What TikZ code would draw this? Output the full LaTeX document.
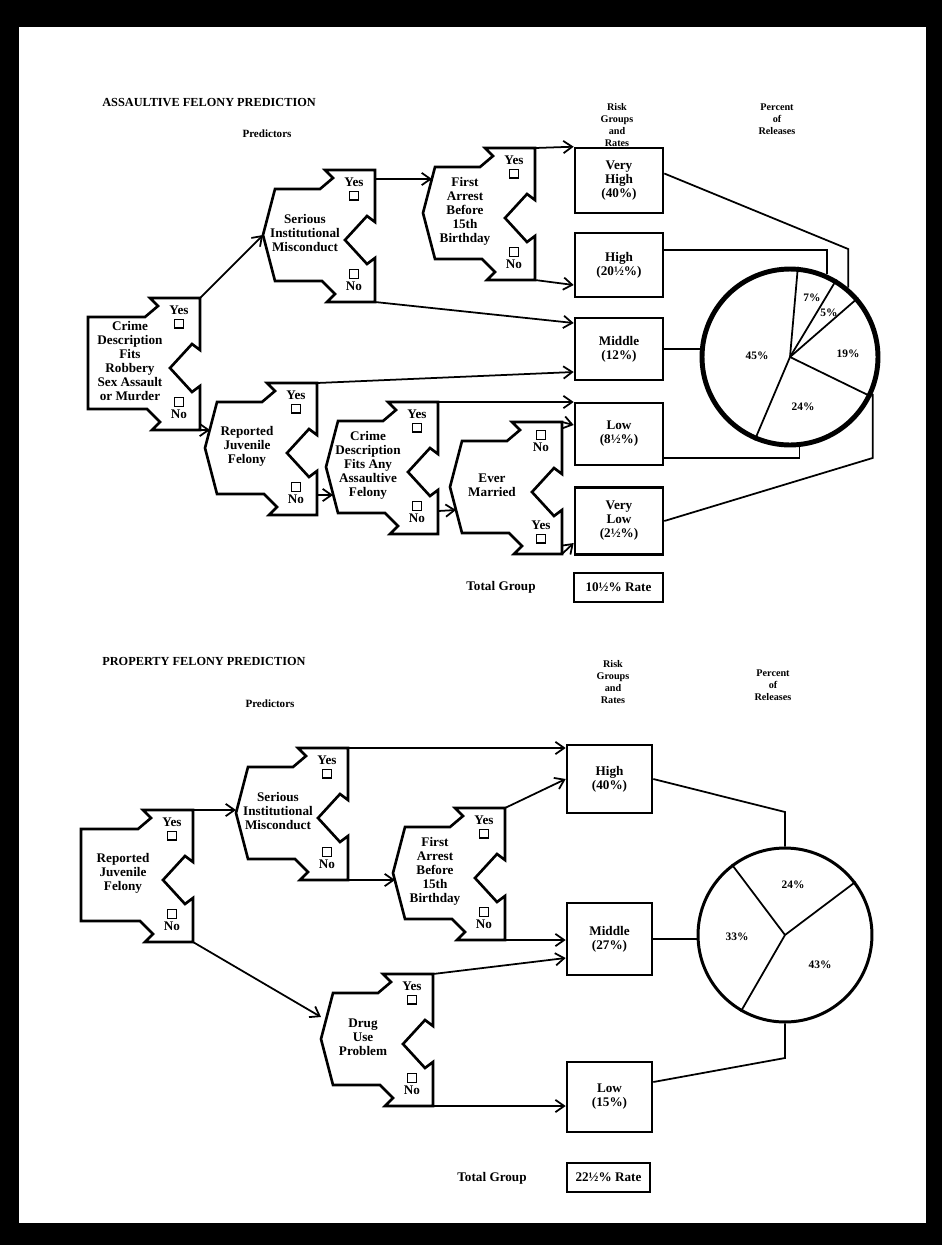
\documentclass[tikz,border=0pt]{standalone}
\usepackage{fontspec}
\setmainfont{Liberation Serif}
\usetikzlibrary{arrows.meta,calc}
\newcommand{\ckbox}{{\setlength{\fboxsep}{0pt}\setlength{\fboxrule}{0.7pt}\fbox{\rule{0pt}{4.2pt}\hspace{4.2pt}}}}
% decision shape: name, right x, column top y, left inset (0 = flat), text, upper answer, lower answer
\newcommand{\predictor}[7]{%
  \begin{scope}[shift={(#2,#3)}]
    \draw[predline] (0,0) -- (0,52) -- (-8,46) -- (-30,70) -- (-8,94) -- (0,88) -- (0,132)
      -- (-48,132) -- (-40,124) -- (-53,111) -- (-112+#4,111) -- (-112,65) -- (-112+#4,19)
      -- (-55,19) -- (-42,8) -- (-50,0) -- cycle;
    \node[predtext] (#1) at (-70,63) {#5};
    \node[anstext] (#1-a) at (-21,19) {#6};
    \node[anstext] (#1-b) at (-21,110) {#7};
    \coordinate (#1-top) at (0,0);
    \coordinate (#1-bot) at (0,132);
    \coordinate (#1-in) at (-112,65);
  \end{scope}}
\tikzset{>={Straight Barb[length=5pt,width=7pt]},
  predline/.style={line width=1.5pt},
  predtext/.style={align=center,inner sep=0,font=\fontsize{7.5}{8}\selectfont\bfseries},
  anstext/.style={align=center,inner sep=0,font=\fontsize{7.5}{7.6}\selectfont\bfseries},
  riskbox/.style={draw,line width=1.5pt,inner sep=0,align=center,font=\fontsize{7.5}{8}\selectfont\bfseries},
  flow/.style={line width=1pt,->},
  link/.style={line width=1pt},
  pie/.style={circle,draw,inner sep=0},
  slice/.style={line width=1pt},
  pct/.style={inner sep=0,font=\fontsize{6.5}{7}\selectfont\bfseries},
  heading/.style={inner sep=0,font=\fontsize{7}{8}\selectfont\bfseries},
  subhead/.style={inner sep=0,font=\fontsize{6.3}{7}\selectfont\bfseries},
  colhead/.style={inner sep=0,align=center,font=\fontsize{5.8}{6.8}\selectfont\bfseries}}
\begin{document}
\begin{tikzpicture}[x=0.02cm,y=-0.02cm]
\useasboundingbox (0,0) rectangle (942,1245);
% scanned page edge
\fill[black] (0,0) rectangle (942,1245);
\fill[white] (19,27) rectangle (926,1223);

% ---------- assaultive felony ----------
\node[heading,anchor=west] (titleA) at (102,103) {ASSAULTIVE FELONY PREDICTION};
\node[subhead] (predA) at (267,134) {Predictors};
\node[colhead] (riskA) at (617,125) {Risk\\Groups\\and\\Rates};
\node[colhead] (pctA) at (777,119) {Percent\\of\\Releases};

\predictor{crime}{200}{298}{0}{Crime\\Description\\Fits\\Robbery\\Sex Assault\\or Murder}{Yes\\\ckbox}{\ckbox\\No}
\predictor{seriousA}{375}{170}{12}{Serious\\Institutional\\Misconduct}{Yes\\\ckbox}{\ckbox\\No}
\predictor{arrestA}{535}{148}{12}{First\\Arrest\\Before\\15th\\Birthday}{Yes\\\ckbox}{\ckbox\\No}
\predictor{juvA}{317}{383}{12}{Reported\\Juvenile\\Felony}{Yes\\\ckbox}{\ckbox\\No}
\predictor{anyA}{438}{402}{12}{Crime\\Description\\Fits Any\\Assaultive\\Felony}{Yes\\\ckbox}{\ckbox\\No}
\predictor{married}{562}{422}{12}{Ever\\Married}{\ckbox\\No}{Yes\\\ckbox}

\node[riskbox,minimum width=1.76cm,minimum height=1.3cm] (vhigh) at (619,180.5) {Very\\High\\(40\%)};
\node[riskbox,minimum width=1.76cm,minimum height=1.28cm] (high) at (619,265) {High\\(20½\%)};
\node[riskbox,minimum width=1.76cm,minimum height=1.24cm] (middle) at (619,349) {Middle\\(12\%)};
\node[riskbox,minimum width=1.76cm,minimum height=1.24cm] (low) at (619,434) {Low\\(8½\%)};
\node[riskbox,minimum width=1.76cm,minimum height=1.34cm] (vlow) at (619,521) {Very\\Low\\(2½\%)};
\node[predtext] (totA) at (501,587) {Total Group};
\node[riskbox,minimum width=1.78cm,minimum height=0.58cm] (rateA) at (618.5,587.5) {10½\% Rate};

\draw[flow] (crime-top) -- (seriousA-in);
\draw[flow] (crime-bot) -- ($(crime-bot -| juvA-in)+(5,0)$);
\draw[flow] ($(seriousA-top)+(0,9)$) -- ($(arrestA-in)+(9,-34)$);
\draw[flow] (seriousA-bot) -- ($(middle.west)+(0,-26)$);
\draw[flow] (arrestA-top) -- (vhigh.north west);
\draw[flow] (arrestA-bot) -- ($(high.west)+(0,20)$);
\draw[flow] (juvA-top) -- ($(middle.west)+(0,23)$);
\draw[flow] ($(juvA-bot)+(0,-20)$) -- ($(anyA-in)+(7,28)$);
\draw[flow] (anyA-top) -- (anyA-top -| low.west);
\draw[flow] ($(anyA-bot)+(0,-23)$) -- ($(married-in)+(6,23)$);
\draw[flow] (married-top) -- ($(low.west)+(0,-9)$);
\draw[flow] (married-bot) -- ($(vlow.west)+(0,22)$);

\node[pie,line width=2.8pt,minimum size=3.52cm] (pieA) at (790,357) {};
\foreach \a in {85,59.8,41.8,-26.6,-113} \draw[slice] (pieA.center) -- (pieA.\a);
\node[pct] (pA45) at (757,356) {45\%};
\node[pct] (pA7) at (812,298) {7\%};
\node[pct] (pA5) at (829,313) {5\%};
\node[pct] (pA19) at (848,354) {19\%};
\node[pct] (pA24) at (803,407) {24\%};

\draw[link] ($(vhigh.east)+(0,-7)$) -- (pieA.50 |- 0,249) -- (pieA.50);
\draw[link] ($(high.east)+(0,-15)$) -- (pieA.66 |- 0,250) -- (pieA.66);
\draw[link] (middle.east) -- (middle.east -| pieA.west);
\draw[link] ($(low.east)+(0,24)$) -- (pieA.-84 |- 0,458) -- (pieA.-84);
\draw[link] (vlow.east) -- (pieA.-24 |- 0,458) -- (pieA.-24);

% ---------- property felony ----------
\node[heading,anchor=west] (titleB) at (102,661) {PROPERTY FELONY PREDICTION};
\node[subhead] (predB) at (270,704) {Predictors};
\node[colhead] (riskB) at (613,682) {Risk\\Groups\\and\\Rates};
\node[colhead] (pctB) at (773,685) {Percent\\of\\Releases};

\predictor{juvB}{193}{810}{0}{Reported\\Juvenile\\Felony}{Yes\\\ckbox}{\ckbox\\No}
\predictor{seriousB}{348}{748}{12}{Serious\\Institutional\\Misconduct}{Yes\\\ckbox}{\ckbox\\No}
\predictor{arrestB}{505}{808}{12}{First\\Arrest\\Before\\15th\\Birthday}{Yes\\\ckbox}{\ckbox\\No}
\predictor{drug}{433}{974}{12}{Drug\\Use\\Problem}{Yes\\\ckbox}{\ckbox\\No}

\node[riskbox,minimum width=1.7cm,minimum height=1.36cm] (phigh) at (609.5,779) {High\\(40\%)};
\node[riskbox,minimum width=1.7cm,minimum height=1.44cm] (pmid) at (609.5,939) {Middle\\(27\%)};
\node[riskbox,minimum width=1.7cm,minimum height=1.4cm] (plow) at (609.5,1097) {Low\\(15\%)};
\node[predtext] (totB) at (492,1178) {Total Group};
\node[riskbox,minimum width=1.66cm,minimum height=0.58cm] (rateB) at (608.5,1177.5) {22½\% Rate};

\draw[flow] (juvB-top) -- (juvB-top -| seriousB-in);
\draw[flow] (juvB-bot) -- ($(drug-in)+(0,-22)$);
\draw[flow] (seriousB-top) -- (seriousB-top -| phigh.west);
\draw[flow] (seriousB-bot) -- ($(seriousB-bot -| arrestB-in)+(2,0)$);
\draw[flow] (arrestB-top) -- (phigh.west);
\draw[flow] (arrestB-bot) -- (arrestB-bot -| pmid.west);
\draw[flow] (drug-top) -- ($(pmid.west)+(0,19)$);
\draw[flow] (drug-bot) -- (drug-bot -| plow.west);

\node[pie,line width=1.7pt,minimum size=3.48cm] (pieB) at (785,935) {};
\foreach \a in {127,37,-120} \draw[slice] (pieB.center) -- (pieB.\a);
\node[pct] (pB24) at (793,885) {24\%};
\node[pct] (pB33) at (737,937) {33\%};
\node[pct] (pB43) at (820,965) {43\%};

\draw[link] (phigh.east) -- (pieB.north |- 0,812) -- (pieB.north);
\draw[link] (pmid.east) -- (pmid.east -| pieB.west);
\draw[link] ($(plow.east)+(0,-15)$) -- (pieB.south |- 0,1058) -- (pieB.south);
\end{tikzpicture}
\end{document}
